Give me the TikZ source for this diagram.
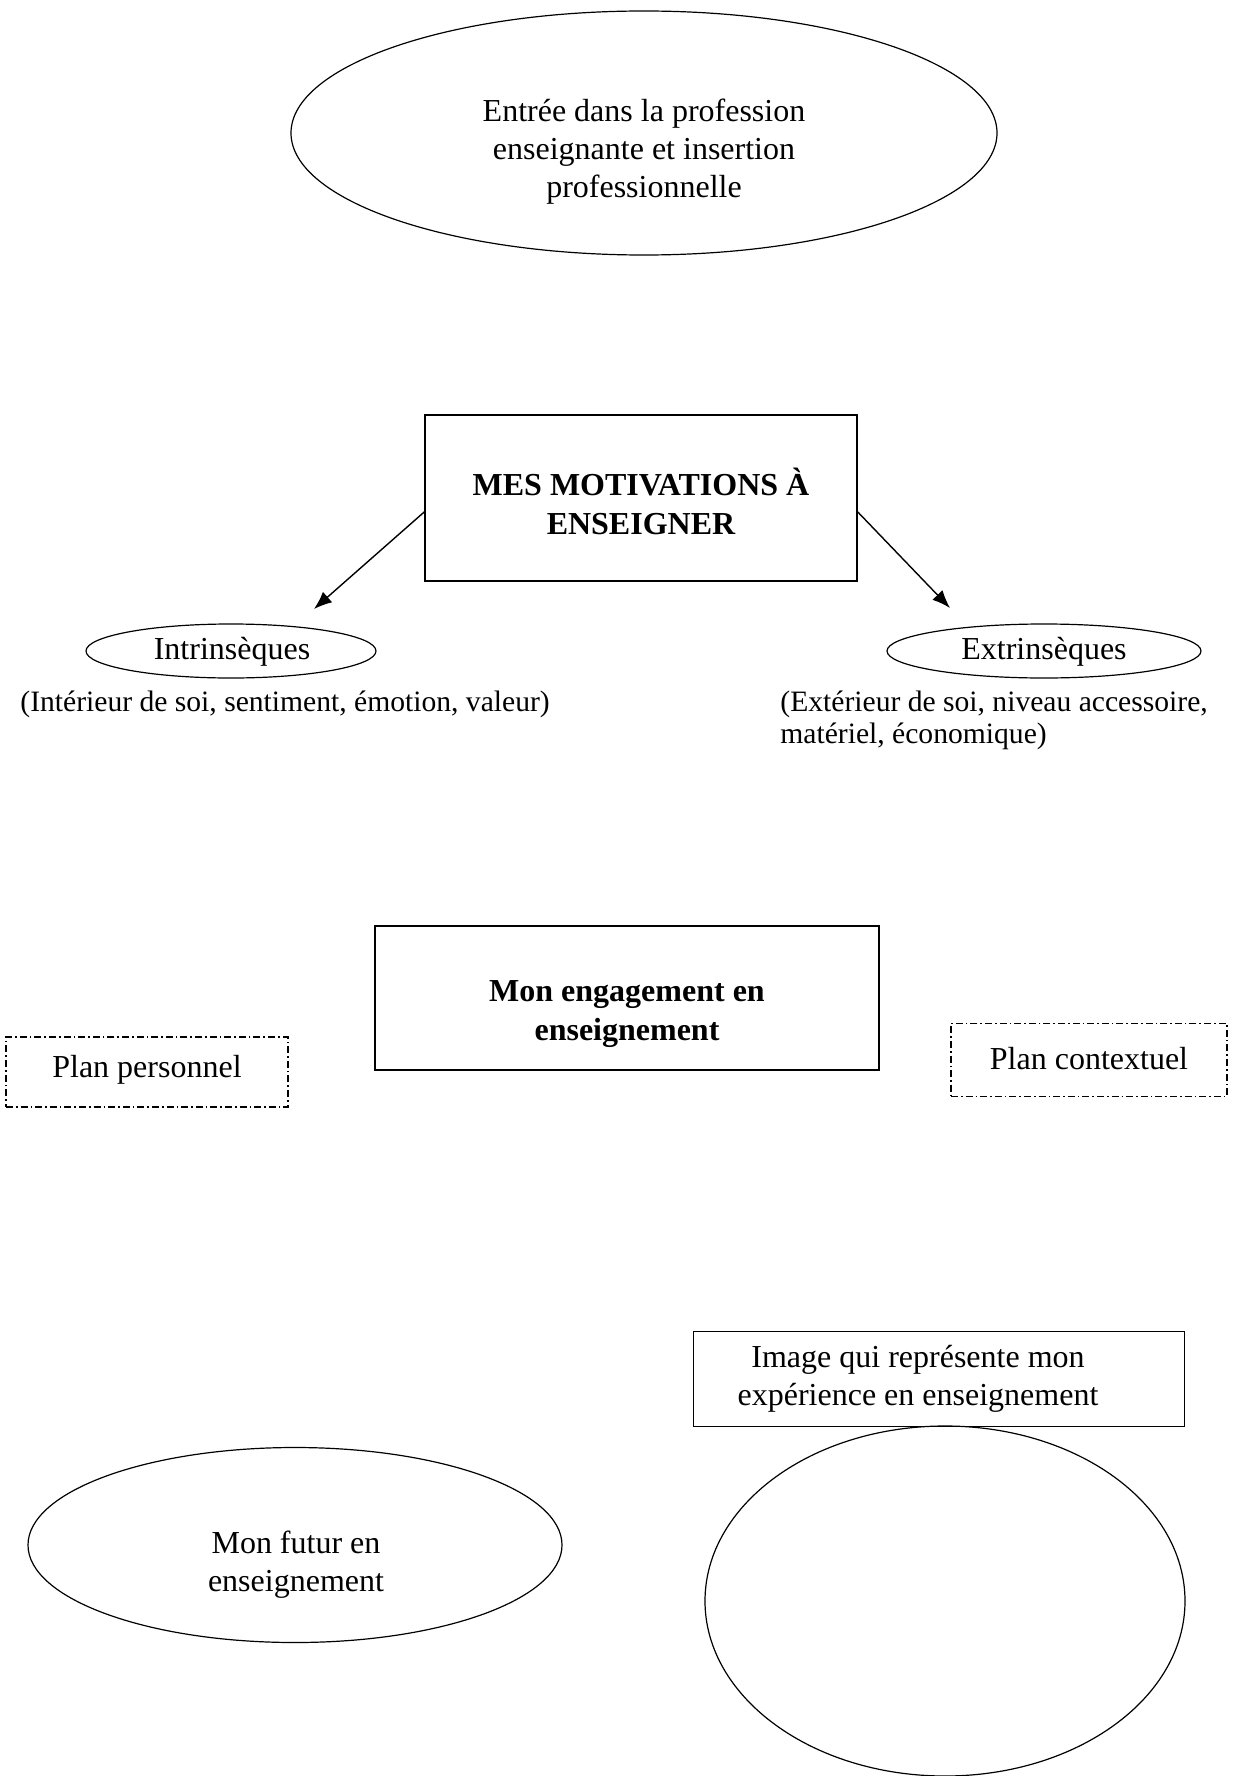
\documentclass[tikz,border=0pt]{standalone}
\usepackage{fontspec}
\setmainfont{Liberation Serif}
\usetikzlibrary{shapes.geometric,arrows.meta}
\begin{document}
\begin{tikzpicture}[x=0.5pt,y=-0.5pt,
 oval/.style={draw,ellipse,inner sep=0pt,line width=0.6pt},
 rbox/.style={draw,rectangle,inner sep=0pt,line width=0.8pt},
 dbox/.style={draw,rectangle,inner sep=0pt,line width=0.6pt,dash pattern=on 3.5pt off 1.5pt on 0.8pt off 1.5pt},
 txt/.style={font=\fontsize{16}{19}\selectfont,align=center,inner sep=0pt},
 btxt/.style={font=\fontsize{16}{19.5}\selectfont\bfseries,align=center,inner sep=0pt},
 stxt/.style={font=\fontsize{14.8}{16}\selectfont,align=left,inner sep=0pt,anchor=west},
 arr/.style={-{Latex[length=9pt,width=7pt]},line width=0.7pt}]
\useasboundingbox (0,0) rectangle (1235,1776);
% top ellipse
\node[oval,minimum width=353pt,minimum height=122pt] (entree) at (644,133) {};
\node[txt] (entreetxt) at (644,152) {Entrée dans la profession\\enseignante et insertion\\professionnelle};
% motivations box
\node[rbox,minimum width=216pt,minimum height=83pt] (mes) at (641,498) {};
\node[btxt] (mestxt) at (641,501) {MES MOTIVATIONS À\\ENSEIGNER};
% intrinseques / extrinseques
\node[oval,minimum width=145pt,minimum height=27pt] (intr) at (231,651) {};
\node[txt] (intrtxt) at (232,652) {Intrinsèques};
\node[oval,minimum width=157pt,minimum height=27pt] (extr) at (1044,651) {};
\node[txt] (extrtxt) at (1044,652) {Extrinsèques};
\coordinate (ti) at (314,609);
\coordinate (te) at (950,608);
\draw[arr] ([yshift=-7pt]mes.west) -- (ti);
\draw[arr] ([yshift=-7pt]mes.east) -- (te);
\node[stxt] (intrsub) at (20,704) {(Intérieur de soi, sentiment, émotion, valeur)};
\node[stxt] (extrsub) at (780,720) {(Extérieur de soi, niveau accessoire,\\matériel, économique)};
% engagement
\node[rbox,minimum width=252pt,minimum height=72pt] (eng) at (627,998) {};
\node[btxt] (engtxt) at (627,1014) {Mon engagement en\\enseignement};
\node[dbox,minimum width=141pt,minimum height=35pt] (pers) at (147,1072) {};
\node[txt] (perstxt) at (147,1070) {Plan personnel};
\node[dbox,minimum width=138pt,minimum height=36.5pt] (cont) at (1089,1060) {};
\node[txt] (conttxt) at (1089,1059) {Plan contextuel};
% bottom
\node[rbox,minimum width=245.5pt,minimum height=47.5pt] (img) at (939,1379) {};
\node[txt] (imgtxt) at (918,1379) {Image qui représente mon\\expérience en enseignement};
\node[oval,minimum width=240pt,minimum height=175pt] (imgell) at (945,1601) {};
\node[oval,minimum width=267pt,minimum height=97.5pt] (futur) at (295,1545) {};
\node[txt] (futurtxt) at (296,1565) {Mon futur en\\enseignement};
\end{tikzpicture}
\end{document}
